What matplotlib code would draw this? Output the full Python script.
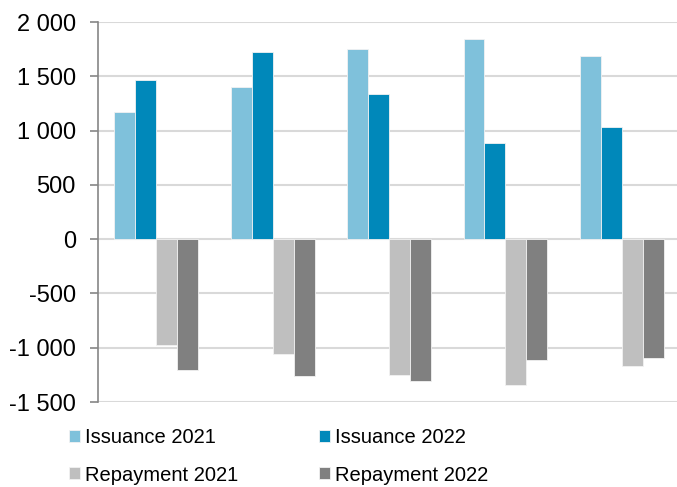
import matplotlib
matplotlib.use("Agg")
import matplotlib.pyplot as plt
import numpy as np
from matplotlib.ticker import FuncFormatter

plt.rcParams["font.family"] = ["Liberation Sans", "DejaVu Sans"]

groups = ["1", "2", "3", "4", "5"]
issuance_2021 = [1168, 1401, 1754, 1840, 1684]
issuance_2022 = [1468, 1721, 1336, 882, 1029]
repayment_2021 = [-973, -1058, -1255, -1340, -1172]
repayment_2022 = [-1209, -1264, -1304, -1110, -1095]

series = [
    ("Issuance 2021", issuance_2021, "#7FC1DB"),
    ("Issuance 2022", issuance_2022, "#0088BA"),
    ("Repayment 2021", repayment_2021, "#BFBFBF"),
    ("Repayment 2022", repayment_2022, "#808080"),
]

fig = plt.figure(figsize=(6.77, 4.87), dpi=100)
ax = fig.add_axes([0.1448, 0.1745, 0.8597, 0.7803])

x = np.arange(len(groups))
w = 0.18
handles = []
for i, (name, vals, color) in enumerate(series):
    b = ax.bar(x + (i - 1.5) * w, vals, w, color=color, edgecolor="#F2F2F2",
               linewidth=0.6, label=name, zorder=2)
    handles.append(b)

ax.set_xlim(-0.5, len(groups) - 0.5)
ax.set_ylim(-1500, 2000)
ax.set_yticks(np.arange(-1500, 2001, 500))
ax.yaxis.set_major_formatter(FuncFormatter(lambda v, p: f"{int(v):,}".replace(",", " ")))
ax.grid(axis="y", color="#D9D9D9", linewidth=1.5, zorder=0)
ax.set_xticks([])

for s in ["top", "right", "bottom"]:
    ax.spines[s].set_visible(False)
ax.spines["left"].set_color("#868686")
ax.spines["left"].set_linewidth(1.2)
ax.tick_params(axis="y", colors="#868686", length=6, width=1.2, pad=10,
               labelsize=17, labelcolor="black")

# legend fills column-major, so order entries to read row by row
order = [0, 2, 1, 3]
fig.legend(handles=[handles[i] for i in order],
           loc="upper left", bbox_to_anchor=(69 / 677, 1 - 428 / 487), ncol=2,
           frameon=False, fontsize=14.5, handlelength=0.55, handleheight=0.55,
           handletextpad=0.25, columnspacing=4.0, labelspacing=0.92,
           borderpad=0, borderaxespad=0)

fig.savefig("out.png", dpi=100)
